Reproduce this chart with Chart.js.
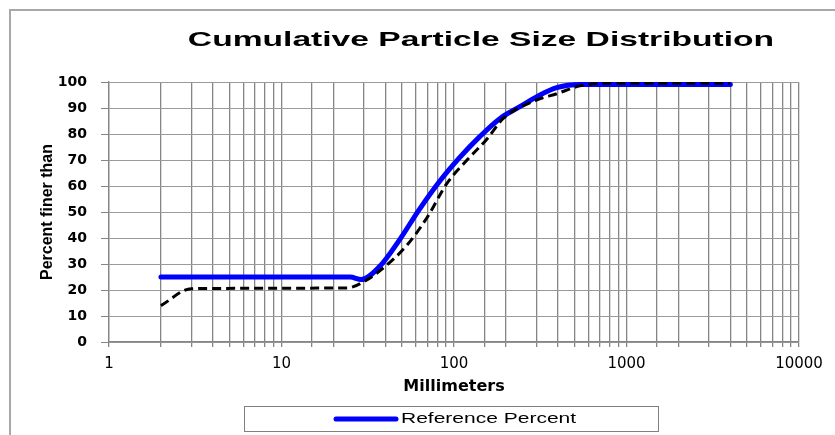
<!DOCTYPE html>
<html>
<head>
<meta charset="utf-8">
<script src="https://cdn.jsdelivr.net/npm/chart.js@4.4.1/dist/chart.umd.min.js"></script>
<style>
  html, body { margin: 0; padding: 0; background: #fff; overflow: hidden; }
  #frame { position: absolute; left: 9px; top: 9px; width: 1000px; height: 500px;
           border-left: 2px solid #a8a8a8; border-top: 2px solid #a8a8a8; }
  #box { position: absolute; left: 0; top: 0; width: 962px; height: 435px; }
</style>
</head>
<body>
<div id="frame"></div>
<div id="box"><canvas id="grafico"></canvas></div>
<script>
// eixo X (milimetros) e valores
const refSizes   = [2, 25, 29, 37, 48, 63, 83, 108, 141, 185, 241, 315, 394, 537, 4000];
const refPercent = [25, 25, 24, 29, 39, 51, 62, 71, 79, 86, 90.5, 95, 97.8, 99, 99];

const sampleSizes   = [2, 3, 24, 30, 39, 53, 70, 91, 119, 155, 193, 300, 394, 537, 767, 4000];
const samplePercent = [14, 20.5, 20.8, 23.2, 28.5, 37, 48, 61, 70, 78, 86, 93, 95.5, 98.5, 99.5, 99.5];

const xTickLabels = [1, 10, 100, 1000, 10000];
const titulo = 'Cumulative Particle Size Distribution';
const gridColor = '#858585';

function pontos(xs, ys) {
    return xs.map((x, i) => ({ x: x, y: ys[i] }));
}

// titulo e legenda desenhados a mano (o titulo fica fora do centro do grafico)
const textosPlugin = {
    id: 'textos',
    afterDraw(chart) {
        const ctx = chart.ctx;
        const ds = chart.data.datasets[0];
        ctx.save();

        // titulo, esticado na horizontal como no original
        ctx.save();
        ctx.font = 'bold 21px "Liberation Sans"';
        ctx.fillStyle = '#000';
        ctx.textAlign = 'center';
        ctx.textBaseline = 'middle';
        ctx.translate(481, 40);
        ctx.scale(1.6, 1);
        ctx.fillText(titulo, 0, 0);
        ctx.restore();

        // legenda so com a serie de referencia
        ctx.strokeStyle = '#808080';
        ctx.lineWidth = 1;
        ctx.strokeRect(244.5, 406.5, 414, 25);
        ctx.strokeStyle = ds.borderColor;
        ctx.lineWidth = ds.borderWidth;
        ctx.lineCap = 'round';
        ctx.beginPath();
        ctx.moveTo(336, 419);
        ctx.lineTo(396, 419);
        ctx.stroke();

        ctx.save();
        ctx.fillStyle = '#000';
        ctx.font = '14px "Liberation Sans"';
        ctx.textBaseline = 'middle';
        ctx.translate(401, 419);
        ctx.scale(1.5, 1);
        ctx.fillText(ds.label, 0, 0);
        ctx.restore();

        ctx.restore();
    }
};

const ctx = document.getElementById('grafico').getContext('2d');

new Chart(ctx, {
    type: 'line',
    data: {
        datasets: [{
            label: 'Reference Percent',
            data: pontos(refSizes, refPercent),
            borderColor: '#0000ff',
            borderWidth: 5,
            borderCapStyle: 'round',
            borderJoinStyle: 'round',
            cubicInterpolationMode: 'monotone',
            pointRadius: 0,
            order: 2
        }, {
            label: 'Sample Percent',
            data: pontos(sampleSizes, samplePercent),
            borderColor: '#000000',
            borderWidth: 3,
            borderDash: [9, 5],
            cubicInterpolationMode: 'monotone',
            pointRadius: 0,
            order: 1
        }]
    },
    options: {
        responsive: true,
        maintainAspectRatio: false,
        animation: false,
        layout: { padding: { left: 0, right: 163, top: 82, bottom: 39 } },
        plugins: {
            legend: { display: false },
            tooltip: { enabled: false },
            title: { display: false }
        },
        scales: {
            x: {
                type: 'logarithmic',
                min: 1,
                max: 10000,
                afterFit: s => { s.height = 54; },
                grid: { color: gridColor, lineWidth: 1.3, tickColor: gridColor, tickLength: 5 },
                border: { color: gridColor, width: 1.3 },
                ticks: {
                    autoSkip: false,
                    maxRotation: 0,
                    padding: 8,
                    color: '#000',
                    font: { family: 'DejaVu Sans', size: 15 },
                    callback: v => xTickLabels.includes(v) ? String(v) : ''
                },
                title: {
                    display: true,
                    text: 'Millimeters',
                    color: '#000',
                    font: { family: 'DejaVu Sans', size: 16, weight: 'bold' },
                    padding: { top: 0, bottom: 0 }
                }
            },
            y: {
                min: 0,
                max: 100,
                afterFit: s => { s.width = 109; },
                grid: { color: '#9a9a9a', lineWidth: 1, tickColor: gridColor, tickLength: 8 },
                border: { color: gridColor, width: 1.3 },
                ticks: {
                    stepSize: 10,
                    padding: 14,
                    color: '#000',
                    font: { family: 'DejaVu Sans', size: 14, weight: 'bold' }
                },
                title: {
                    display: true,
                    text: 'Percent finer than',
                    color: '#000',
                    font: { family: 'Liberation Sans', size: 16, weight: 'bold' },
                    padding: { top: 38, bottom: 0 }
                }
            }
        }
    },
    plugins: [textosPlugin]
});
</script>
</body>
</html>
